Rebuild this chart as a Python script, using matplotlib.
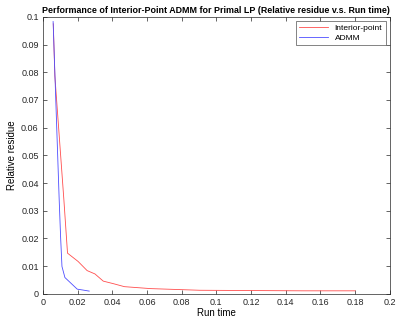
import matplotlib.pyplot as plt

plt.rcParams['font.family'] = ['Liberation Sans', 'DejaVu Sans']

# Data
ip_time = [0.0060, 0.0069, 0.0121, 0.0142, 0.0203, 0.0255, 0.0300, 0.0348, 0.0405,
           0.0470, 0.0620, 0.0904, 0.1200, 0.1500, 0.1800]
ip_res = [0.0975, 0.0787, 0.034, 0.0147, 0.0117, 0.0084, 0.0072, 0.0046, 0.0037,
          0.0026, 0.0019, 0.0013, 0.0012, 0.0011, 0.0011]
admm_time = [0.0059, 0.0094, 0.0102, 0.0110, 0.0127, 0.0198, 0.0229, 0.0267]
admm_res = [0.0983, 0.034, 0.0208, 0.0099, 0.0059, 0.0017, 0.0014, 0.0010]

fig = plt.figure(figsize=(3.97, 3.24), dpi=100)
ax = fig.add_axes([0.108, 0.093, 0.874, 0.855])
ax.plot(ip_time, ip_res, color='#ff4d4d', lw=0.6, label='Interior-point')
ax.plot(admm_time, admm_res, color='#4d4dff', lw=0.6, label='ADMM')

ax.set_xlim(0, 0.2)
ax.set_ylim(0, 0.1)
ax.set_xticks([i * 0.02 for i in range(11)])
ax.set_xticklabels(['0', '0.02', '0.04', '0.06', '0.08', '0.1', '0.12', '0.14', '0.16', '0.18', '0.2'])
ax.set_yticks([i * 0.01 for i in range(11)])
ax.set_yticklabels(['0', '0.01', '0.02', '0.03', '0.04', '0.05', '0.06', '0.07', '0.08', '0.09', '0.1'])
ax.tick_params(direction='in', top=True, right=True, labelsize=6.5, length=3,
               width=0.5, colors='#262626', pad=3)
for s in ax.spines.values():
    s.set_linewidth(0.5)
    s.set_color('#262626')

ax.set_title('Performance of Interior-Point ADMM for Primal LP (Relative residue v.s. Run time)',
             fontsize=6.4, fontweight='bold', pad=3)
ax.set_xlabel('Run time', fontsize=7, labelpad=1)
ax.set_ylabel('Relative residue', fontsize=7, labelpad=3)
leg = ax.legend(loc='upper right', fontsize=6, frameon=True, fancybox=False,
                edgecolor='#262626', handlelength=3.5, borderpad=0.4, labelspacing=0.2)
leg.get_frame().set_linewidth(0.5)

plt.savefig('out.png', dpi=100)
